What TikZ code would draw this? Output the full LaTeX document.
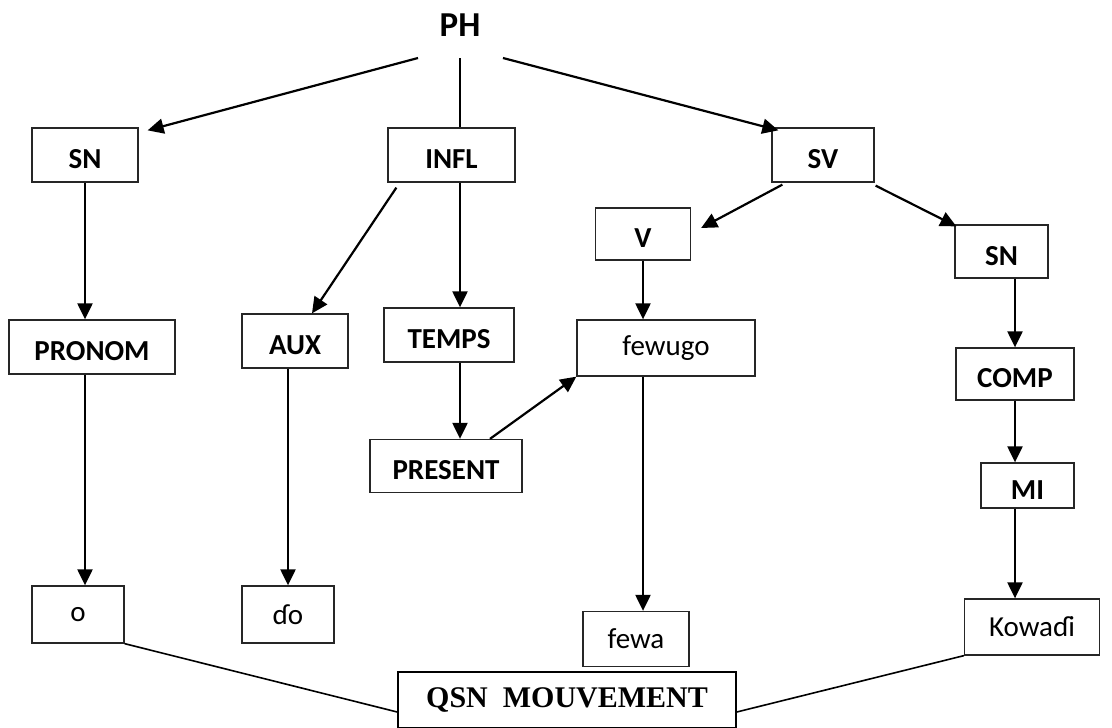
\documentclass[tikz,border=0pt]{standalone}
\usepackage{fontspec}
\setmainfont{Carlito}
\newfontfamily\timesfont{Liberation Serif}
\usetikzlibrary{arrows.meta}
\usetikzlibrary{calc}

\tikzset{
  box/.style={draw=black!85, line width=1.3pt, rectangle, inner sep=0pt,
    text height=27pt, text depth=0pt,
    font=\fontsize{29}{32}\selectfont\bfseries},
  word/.style={draw=black!85, line width=1.3pt, rectangle, inner sep=0pt,
    font=\fontsize{29}{32}\selectfont},
  arr/.style={line width=2.2pt, -{Triangle[length=16pt,width=15pt]}},
  lnk/.style={line width=1.6pt}
}

\begin{document}
\begin{tikzpicture}[x=1pt,y=-1pt]
\useasboundingbox (0,0) rectangle (1112,728);

\node[font=\fontsize{35}{38}\selectfont\bfseries] (ph) at (460,25) {PH};

% first level
\node[box, minimum width=106pt, minimum height=54pt] (sn) at (85,155) {SN};
\node[box, minimum width=127pt, minimum height=54pt] (infl) at (451.5,155) {INFL};
\node[box, minimum width=102pt, minimum height=54pt] (sv) at (823,155) {SV};

% under SV
\node[box, minimum width=95pt, minimum height=52pt] (v) at (643,234) {V};
\node[box, minimum width=93pt, minimum height=53pt] (snb) at (1001.5,251.5) {SN};

% middle level
\node[box, minimum width=166pt, minimum height=54pt] (pronom) at (92,347) {PRONOM};
\node[box, minimum width=106pt, minimum height=54pt] (aux) at (295,341) {AUX};
\node[box, minimum width=130pt, minimum height=54pt] (temps) at (449,335) {TEMPS};
\node[word, minimum width=178pt, minimum height=56pt] (fewugo) at (666,348) {fewugo};
\node[box, minimum width=118pt, minimum height=52pt] (comp) at (1015,374) {COMP};
\node[box, minimum width=152pt, minimum height=53pt] (present) at (446,466) {PRESENT};
\node[box, minimum width=93pt, minimum height=45pt] (mi) at (1027.5,485.5) {MI};

% words
\node[word, minimum width=92pt, minimum height=57pt] (o) at (78,614.5) {o};
\node[word, minimum width=92pt, minimum height=57pt] (do) at (288,614.5) {ɗo};
\node[word, minimum width=106pt, minimum height=55pt] (fewa) at (636,639) {fewa};
\node[word, minimum width=135pt, minimum height=56pt] (kowadi) at (1032,627) {Kowaɗi};

\node[draw=black, line width=1.6pt, minimum width=338pt, minimum height=56pt,
  inner sep=0pt, font=\fontsize{30}{34}\timesfont\bfseries] (qsn) at (567,700)
  {QSN\ \ MOUVEMENT};

% branches
\draw[arr] ($(ph)+(-42,33)$) -- ($(sn.north east)+(9,3)$);
\draw[lnk] ($(ph)+(0,33)$) -- (ph |- infl.north);
\draw[arr] ($(ph)+(43,33)$) -- ($(sv.north west)+(7,3)$);

\draw[arr] (sn.south) -- (sn.south |- pronom.north);
\draw[arr] ($(infl.south west)+(9,5)$) -- ($(aux.north)+(17,0)$);
\draw[arr] (ph |- infl.south) -- (ph |- temps.north);
\draw[arr] ($(sv.south west)+(11,2)$) -- ($(v.east)+(10,-6)$);
\draw[arr] ($(sv.south east)+(1,3)$) -- ($(snb.north west)+(2,2)$);

\draw[arr] (v.south) -- (v.south |- fewugo.north);
\draw[arr] (comp |- snb.south) -- (comp.north);
\draw[arr] (ph |- temps.south) -- (ph |- present.north);
\draw[arr] ($(present.north)+(44,0)$) -- (fewugo.south west);

\draw[arr] (sn |- pronom.south) -- (sn |- o.north);
\draw[arr] (do |- aux.south) -- (do.north);
\draw[arr] (v |- fewugo.south) -- (v |- fewa.north);
\draw[arr] (comp.south) -- (comp.south |- mi.north);
\draw[arr] (comp |- mi.south) -- (comp |- kowadi.north);

% movement
\draw[lnk] (o.south east) -- ($(qsn.west)+(0,12)$);
\draw[lnk] ($(qsn.east)+(0,12)$) -- (kowadi.south west);
\end{tikzpicture}
\end{document}
